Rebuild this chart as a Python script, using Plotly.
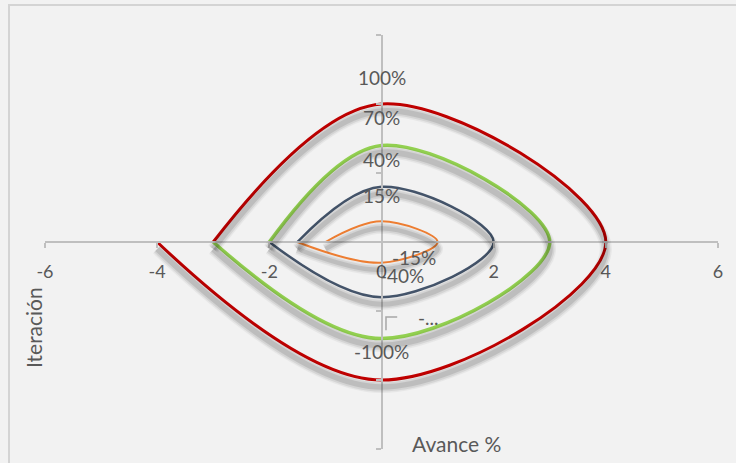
import plotly.graph_objects as go

# ---- data ----
series_names = ["Serie 1", "Serie 2", "Serie 3", "Serie 4"]
red_x = [-4, 0, 4, 0, -3]
red_y = [0, -2, 0, 2, 0]
green_x = [-3, 0, 3, 0, -2]
green_y = [0, -1.4, 0, 1.4, 0]
dark_x = [-2, 0, 2, 0, -1.5]
dark_y = [0, -0.8, 0, 0.8, 0]
orange_x = [-1.5, 0, 1, 0, -1]
orange_y = [0, -0.3, 0, 0.3, 0]

x_tick_vals = [-6, -4, -2, 0, 2, 4, 6]
x_tick_text = ["-6", "-4", "-2", "0", "2", "4", "6"]
label_texts = ["100%", "70%", "40%", "15%", "-15%", "-40%", "-...", "-100%"]
x_title = "Avance %"
y_title = "Iteración"

# ---- layout / style ----
W, H = 736, 463
ML, MR, MT, MB = 45, 18, 35, 7
PW, PH = W - ML - MR, H - MT - MB
SHADOW_PX = 7
main_dom = [SHADOW_PX / PH, 1]
shadow_dom = [0, 1 - SHADOW_PX / PH]
zero_paper_y = main_dom[0] + 0.5 * (main_dom[1] - main_dom[0])

label_pos = [(0, 2.39), (0, 1.80), (0, 1.19), (0, 0.68),
             (0.58, -0.23), (0.36, -0.48), (0.83, -1.10), (0, -1.59)]

colors = ["#c00000", "#92d050", "#44546a", "#ed7d31"]
widths = [3, 3.5, 2.5, 2]
xs = [red_x, green_x, dark_x, orange_x]
ys = [red_y, green_y, dark_y, orange_y]

TXT = "#595959"
FONT = "Lato"

fig = go.Figure()

for i in range(4):
    # soft shadow on offset axes
    for w_add, op in [(9, 0.045), (6, 0.07), (2.5, 0.1)]:
        fig.add_trace(go.Scatter(
            x=xs[i], y=ys[i], mode="lines", xaxis="x2", yaxis="y2",
            line=dict(color="#000000", width=widths[i] + w_add, shape="spline", smoothing=1.05),
            opacity=op, hoverinfo="skip", showlegend=False))
    fig.add_trace(go.Scatter(
        x=xs[i], y=ys[i], mode="lines", name=series_names[i],
        line=dict(color=colors[i], width=widths[i], shape="spline", smoothing=1.05),
        showlegend=False))

annotations = []
for t, (lx, ly) in zip(label_texts, label_pos):
    annotations.append(dict(x=lx, y=ly, xref="x", yref="y", text=t, showarrow=False,
                            xanchor="center", yanchor="middle",
                            font=dict(family=FONT, size=19, color=TXT)))
annotations.append(dict(x=(456 - ML) / PW, y=(H - MB - 443) / PH, xref="paper", yref="paper",
                        text=x_title, showarrow=False, xanchor="center", yanchor="middle",
                        font=dict(family=FONT, size=21, color=TXT)))
annotations.append(dict(x=(33 - ML) / PW, y=(H - MB - 328) / PH, xref="paper", yref="paper",
                        text=y_title, showarrow=False, textangle=-90, xanchor="center",
                        yanchor="middle", font=dict(family=FONT, size=21, color=TXT)))

shapes = [
    dict(type="rect", xref="paper", yref="paper",
         x0=(9 - ML) / PW, y0=-0.2, x1=1.2, y1=(H - MB - 5) / PH,
         line=dict(color="#d4d4d4", width=2), fillcolor="rgba(0,0,0,0)", layer="below"),
    dict(type="path", xref="x", yref="y",
         path="M 0.08,-1.28 L 0.08,-1.087 L 0.28,-1.087",
         line=dict(color="#a6a6a6", width=1.5)),
]

fig.update_layout(
    width=W, height=H,
    margin=dict(l=ML, r=MR, t=MT, b=MB, pad=0),
    paper_bgcolor="#f2f2f2", plot_bgcolor="rgba(0,0,0,0)",
    showlegend=False,
    xaxis=dict(range=[-6, 6], tickmode="array", tickvals=x_tick_vals, ticktext=x_tick_text,
               anchor="free", position=zero_paper_y,
               domain=[0, 1], showline=True, linecolor="#bfbfbf", linewidth=2,
               ticks="outside", ticklen=5, tickwidth=1.5, tickcolor="#bfbfbf",
               showgrid=False, zeroline=False, ticklabelstandoff=8,
               tickfont=dict(family=FONT, size=18, color=TXT)),
    yaxis=dict(range=[-3, 3], dtick=1, domain=main_dom, anchor="free", position=0.5,
               showline=True, linecolor="#bfbfbf", linewidth=2,
               ticks="outside", ticklen=5, tickwidth=1.5, tickcolor="#bfbfbf",
               showticklabels=False, showgrid=False, zeroline=False),
    xaxis2=dict(range=[-6, 6], domain=[0, 1], anchor="y2", overlaying="x", visible=False),
    yaxis2=dict(range=[-3, 3], domain=shadow_dom, anchor="x2", visible=False),
    annotations=annotations,
    shapes=shapes,
)

fig.write_html("out.html")
